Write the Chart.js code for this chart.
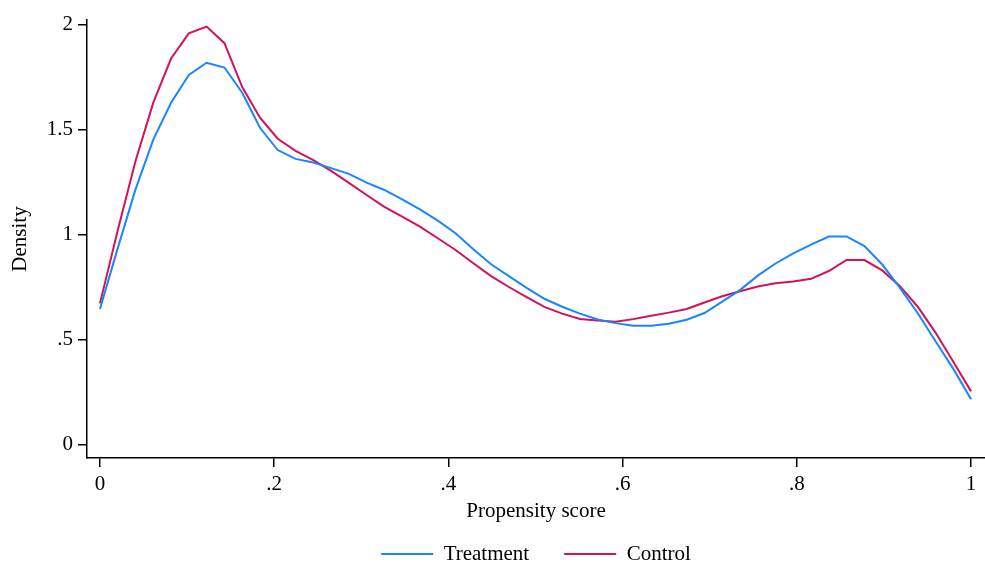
<!DOCTYPE html>
<html>
<head>
<meta charset="utf-8">
<script src="https://cdn.jsdelivr.net/npm/chart.js@4"></script>
<style>
  html, body { margin: 0; padding: 0; background: #fff; }
  #wrap { width: 985px; height: 571px; }
</style>
</head>
<body>
<div id="wrap"><canvas id="grafico"></canvas></div>
<script>
// kernel density estimates
const pontos = [0, .0204, .0408, .0612, .0816, .1020, .1224, .1429, .1633, .1837,
  .2041, .2245, .2449, .2653, .2857, .3061, .3265, .3469, .3673, .3878,
  .4082, .4286, .4490, .4694, .4898, .5102, .5306, .5510, .5714, .5918,
  .6122, .6327, .6531, .6735, .6939, .7143, .7347, .7551, .7755, .7959,
  .8163, .8367, .8571, .8776, .8980, .9184, .9388, .9592, .9796, 1];

const tratamento = [0.645, 0.935, 1.215, 1.452, 1.627, 1.760, 1.818, 1.795, 1.675, 1.508,
  1.402, 1.360, 1.343, 1.316, 1.289, 1.247, 1.212, 1.167, 1.120, 1.066,
  1.006, 0.930, 0.858, 0.802, 0.746, 0.694, 0.656, 0.623, 0.595, 0.578,
  0.565, 0.565, 0.575, 0.594, 0.626, 0.680, 0.735, 0.804, 0.862, 0.910,
  0.952, 0.990, 0.991, 0.945, 0.857, 0.746, 0.625, 0.492, 0.360, 0.216];

const controle = [0.672, 1.020, 1.350, 1.628, 1.838, 1.958, 1.990, 1.911, 1.702, 1.556,
  1.456, 1.398, 1.354, 1.303, 1.246, 1.188, 1.132, 1.085, 1.037, 0.982,
  0.926, 0.863, 0.802, 0.750, 0.702, 0.655, 0.623, 0.598, 0.590, 0.584,
  0.597, 0.613, 0.628, 0.645, 0.676, 0.706, 0.730, 0.752, 0.768, 0.776,
  0.789, 0.826, 0.879, 0.878, 0.829, 0.754, 0.656, 0.533, 0.394, 0.253];

const xTicks = [0, 0.2, 0.4, 0.6, 0.8, 1];
const xTickLabels = ["0", ".2", ".4", ".6", ".8", "1"];
const yTicks = [0, 0.5, 1, 1.5, 2];
const yTickLabels = ["0", ".5", "1", "1.5", "2"];

const azul = "#1a85ff";
const vermelho = "#d41159";
const fonte = "'Liberation Serif', 'Times New Roman', serif";

function juntar(xs, ys) {
  return xs.map((x, i) => ({ x: x, y: ys[i] }));
}

const ctx = document.getElementById("grafico").getContext("2d");

new Chart(ctx, {
  type: "line",
  data: {
    datasets: [
      { label: "Treatment", data: juntar(pontos, tratamento), borderColor: azul, borderWidth: 2, pointRadius: 0, tension: 0, fill: false },
      { label: "Control", data: juntar(pontos, controle), borderColor: vermelho, borderWidth: 2, pointRadius: 0, tension: 0, fill: false }
    ]
  },
  options: {
    responsive: true,
    maintainAspectRatio: false,
    animation: false,
    layout: { padding: { top: 20, right: 0, bottom: -3.5, left: 0 } },
    plugins: {
      tooltip: { enabled: false },
      legend: {
        position: "bottom",
        fullSize: false,
        labels: {
          color: "#000",
          font: { family: fonte, size: 21 },
          boxWidth: 52,
          boxHeight: 2,
          padding: 35,
          generateLabels: chart => chart.data.datasets.map((d, i) => ({
            text: d.label, fillStyle: d.borderColor, strokeStyle: d.borderColor,
            lineWidth: 0, hidden: false, datasetIndex: i, fontColor: "#000"
          }))
        }
      }
    },
    scales: {
      x: {
        type: "linear",
        min: -0.0149,
        max: 1.016,
        afterBuildTicks: s => { s.ticks = xTicks.map(v => ({ value: v })); },
        afterFit: s => { s.height = 50.5; },
        ticks: {
          color: "#000",
          font: { family: fonte, size: 21 },
          padding: 5,
          maxRotation: 0,
          callback: (v, i) => xTickLabels[i]
        },
        grid: { drawOnChartArea: false, drawTicks: true, tickLength: 9, color: "#000", lineWidth: 1.5 },
        border: { display: true, color: "#000", width: 1.5 },
        title: {
          display: true,
          text: "Propensity score",
          color: "#000",
          font: { family: fonte, size: 21 },
          padding: { top: 0, bottom: -16 }
        }
      },
      y: {
        type: "linear",
        min: -0.0643,
        max: 2.0214,
        afterBuildTicks: s => { s.ticks = yTicks.map(v => ({ value: v })); },
        afterFit: s => { s.width = 87; },
        ticks: {
          color: "#000",
          font: { family: fonte, size: 21 },
          padding: 5,
          callback: (v, i) => yTickLabels[i]
        },
        grid: { drawOnChartArea: false, drawTicks: true, tickLength: 9, color: "#000", lineWidth: 1.5 },
        border: { display: true, color: "#000", width: 1.5 },
        title: {
          display: true,
          text: "Density",
          color: "#000",
          font: { family: fonte, size: 21 },
          padding: { top: 8, bottom: 0 }
        }
      }
    }
  }
});
</script>
</body>
</html>
